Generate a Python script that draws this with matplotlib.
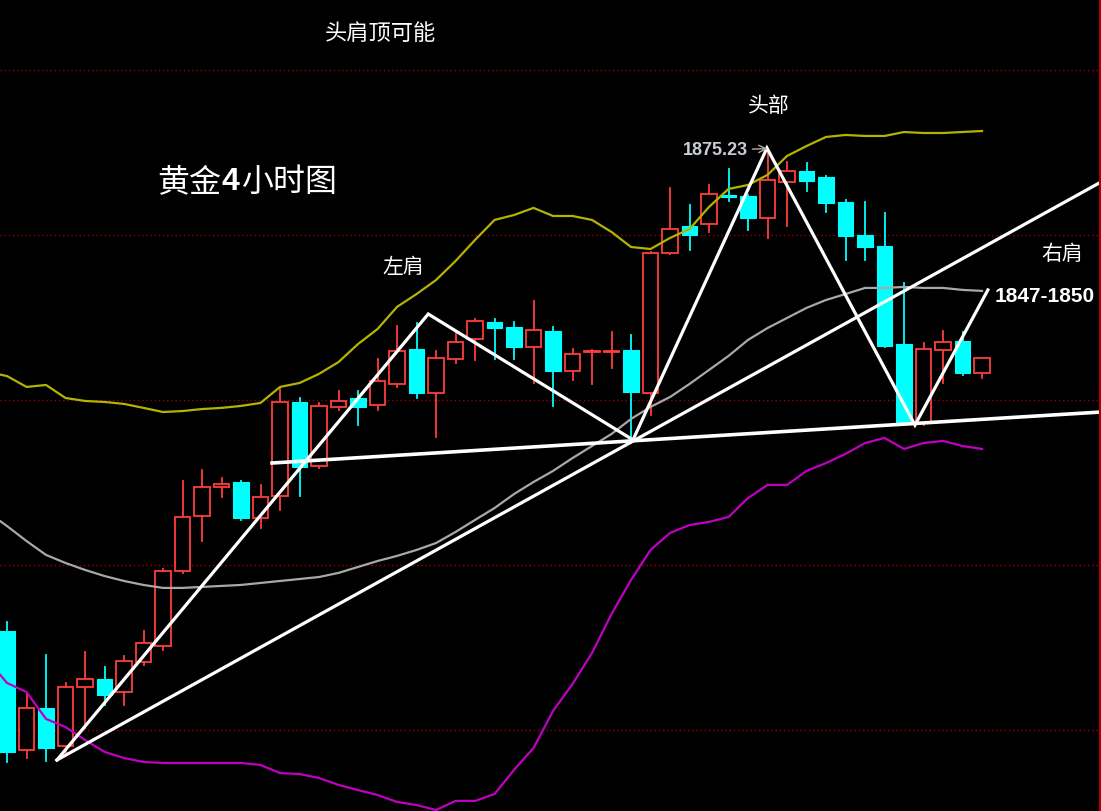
import numpy as np
import matplotlib.pyplot as plt
from matplotlib.patches import Rectangle

plt.rcParams['font.family'] = ['Noto Sans CJK SC', 'DejaVu Sans']

# 4h gold candles (open, high, low, close)
opens = [1846.00, 1838.79, 1841.33, 1839.03, 1842.61, 1843.09, 1842.30, 1844.12, 1845.09, 1849.64,
         1852.97, 1854.73, 1855.03, 1852.85, 1854.18, 1859.88, 1856.00, 1859.58, 1860.12, 1859.70,
         1860.97, 1863.09, 1860.42, 1862.48, 1863.70, 1864.73, 1864.42, 1863.21, 1864.18, 1861.76,
         1862.91, 1862.91, 1863.03, 1860.42, 1868.91, 1870.55, 1870.67, 1872.42, 1872.36, 1871.03,
         1873.21, 1873.88, 1873.52, 1872.00, 1870.00, 1869.33, 1863.39, 1858.61, 1863.03, 1863.58,
         1861.64]
highs = [1846.55, 1842.24, 1844.55, 1842.85, 1844.73, 1843.82, 1844.48, 1846.00, 1849.76, 1855.09,
         1855.76, 1855.27, 1855.09, 1854.85, 1860.73, 1860.12, 1859.82, 1860.55, 1860.55, 1862.48,
         1864.48, 1864.67, 1862.97, 1864.06, 1864.91, 1864.91, 1864.73, 1866.00, 1864.42, 1863.09,
         1863.03, 1864.12, 1863.94, 1868.97, 1872.85, 1871.82, 1873.03, 1874.00, 1872.42, 1875.23,
         1874.42, 1874.36, 1873.58, 1872.12, 1872.00, 1871.33, 1867.09, 1863.45, 1864.18, 1864.12,
         1862.55]
lows = [1838.06, 1838.30, 1838.12, 1838.61, 1840.12, 1841.52, 1841.52, 1843.94, 1844.85, 1849.52,
        1851.45, 1854.12, 1852.73, 1852.24, 1853.33, 1854.18, 1855.88, 1859.39, 1858.48, 1859.39,
        1860.79, 1860.12, 1857.76, 1862.24, 1862.42, 1862.48, 1862.48, 1861.03, 1859.64, 1861.21,
        1860.97, 1861.94, 1857.39, 1859.09, 1868.85, 1869.09, 1870.18, 1872.06, 1870.30, 1869.82,
        1870.55, 1872.67, 1871.39, 1868.48, 1868.48, 1863.21, 1858.48, 1858.50, 1861.03, 1861.52,
        1861.33]
closes = [1838.67, 1841.33, 1838.91, 1842.61, 1843.09, 1842.12, 1844.18, 1845.27, 1849.64, 1852.91,
          1854.73, 1854.91, 1852.85, 1854.12, 1859.88, 1855.94, 1859.64, 1859.94, 1859.58, 1861.15,
          1862.97, 1860.42, 1862.55, 1863.52, 1864.79, 1864.36, 1863.21, 1864.24, 1861.76, 1862.79,
          1862.97, 1862.97, 1860.48, 1868.91, 1870.36, 1870.00, 1872.48, 1872.30, 1871.03, 1873.33,
          1873.88, 1873.27, 1871.94, 1869.94, 1869.27, 1863.27, 1858.61, 1863.09, 1863.52, 1861.64,
          1862.55]

# Bollinger bands, starting one bar before the first visible candle
boll_upper = [1861.70, 1861.45, 1860.79, 1860.91, 1860.12, 1859.94, 1859.88, 1859.76, 1859.52, 1859.27,
              1859.33, 1859.45, 1859.52, 1859.64, 1859.82, 1860.79, 1861.03, 1861.58, 1862.30, 1863.39,
              1864.30, 1865.64, 1866.42, 1867.27, 1868.42, 1869.70, 1870.91, 1871.21, 1871.64, 1871.15,
              1871.15, 1870.91, 1870.18, 1869.27, 1869.15, 1869.82, 1870.36, 1871.70, 1872.79, 1873.03,
              1873.64, 1874.79, 1875.39, 1875.94, 1876.06, 1876.00, 1876.00, 1876.24, 1876.18, 1876.18,
              1876.24, 1876.30]
boll_mid = [1853.21, 1852.36, 1851.45, 1850.61, 1850.12, 1849.70, 1849.33, 1849.03, 1848.79, 1848.61,
            1848.61, 1848.67, 1848.73, 1848.79, 1848.91, 1849.03, 1849.15, 1849.27, 1849.52, 1849.88,
            1850.24, 1850.55, 1850.91, 1851.33, 1852.00, 1852.73, 1853.45, 1854.30, 1855.03, 1855.70,
            1856.48, 1857.21, 1857.94, 1858.85, 1859.58, 1860.18, 1860.97, 1861.82, 1862.67, 1863.64,
            1864.36, 1864.97, 1865.58, 1866.06, 1866.42, 1866.79, 1866.79, 1866.85, 1866.79, 1866.79,
            1866.67, 1866.61]
boll_lower = [1844.24, 1842.85, 1842.30, 1840.67, 1840.18, 1839.39, 1838.67, 1838.30, 1838.06, 1838.00,
              1838.00, 1838.00, 1838.00, 1838.00, 1837.88, 1837.39, 1837.33, 1837.09, 1836.67, 1836.36,
              1836.06, 1835.64, 1835.45, 1835.15, 1835.70, 1835.70, 1836.12, 1837.58, 1838.91, 1841.15,
              1842.79, 1844.67, 1847.03, 1849.09, 1850.91, 1851.94, 1852.42, 1852.61, 1852.91, 1854.06,
              1854.85, 1854.85, 1855.70, 1856.18, 1856.73, 1857.39, 1857.70, 1857.03, 1857.39, 1857.52,
              1857.21, 1857.03]

# hand-drawn head & shoulders lines (bar index, price)
hs_bars = [2.56, 21.6, 32.1, 38.97, 46.56, 50.3]
hs_prices = [1838.18, 1865.21, 1857.58, 1875.27, 1858.48, 1866.67]
neck_bars = [13.59, 56.1]
neck_prices = [1856.18, 1859.27]
trend_bars = [2.56, 56.1]
trend_prices = [1838.18, 1873.21]

grid_levels = [1840, 1850, 1860, 1870, 1880]

UP = '#ff3c3c'
DOWN = '#00ffff'

fig = plt.figure(figsize=(11.01, 8.11), dpi=100, facecolor='black')
ax = fig.add_axes([0, 0, 1, 1])
ax.set_facecolor('black')

for lvl in grid_levels:
    ax.axhline(lvl, color='#9a0000', lw=1.0, ls=(0, (1, 2)), zorder=1)

w = 0.78
for i, (o, h, l, c) in enumerate(zip(opens, highs, lows, closes)):
    top, bot = max(o, c), min(o, c)
    if c >= o:
        ax.plot([i, i], [top, h], color=UP, lw=1.3, zorder=3)
        ax.plot([i, i], [l, bot], color=UP, lw=1.3, zorder=3)
        ax.add_patch(Rectangle((i - w / 2, bot), w, max(top - bot, 0.08),
                               facecolor='black', edgecolor=UP, lw=1.3, zorder=4))
    else:
        ax.plot([i, i], [l, h], color=DOWN, lw=1.3, zorder=3)
        ax.add_patch(Rectangle((i - w / 2, bot), w, max(top - bot, 0.08),
                               facecolor=DOWN, edgecolor=DOWN, lw=0.8, zorder=4))

bx = np.arange(-1, len(boll_upper) - 1)
ax.plot(bx, boll_upper, color='#b4b400', lw=1.6, zorder=5)
ax.plot(bx, boll_mid, color='#a8a8a8', lw=1.6, zorder=5)
ax.plot(bx, boll_lower, color='#c000c0', lw=1.6, zorder=5)

ax.plot(hs_bars, hs_prices, color='white', lw=2.3, zorder=6, solid_joinstyle='miter')
ax.plot(neck_bars, neck_prices, color='white', lw=2.6, zorder=6)
ax.plot(trend_bars, trend_prices, color='white', lw=2.3, zorder=6)

top_i = int(np.argmax(highs))
ax.annotate(f'{highs[top_i]:.2f}', xy=(top_i, highs[top_i]), xytext=(-14, -1),
            textcoords='offset points', ha='right', va='center',
            fontsize=13, fontweight='bold', color='#c8ccd6',
            family=['Liberation Sans', 'DejaVu Sans'],
            arrowprops=dict(arrowstyle='->', color='#b0b0b0', lw=1.0,
                            shrinkA=1, shrinkB=0), zorder=7)

ax.axvline(56.05, color='#b00000', lw=1.5, zorder=7)

ax.set_xlim(-0.36, 56.1)
ax.set_ylim(1835.09, 1884.24)
ax.axis('off')


def px(x, y):
    return x / 1101, 1 - y / 811


fig.text(*px(325, 33), '头肩顶可能', color='white', fontsize=16, va='center', ha='left')
fig.text(*px(157, 182), '黄金', color='white', fontsize=23, va='center', ha='left')
fig.text(*px(221, 182), '4', color='white', fontsize=23, fontweight='bold',
         family=['Liberation Sans', 'DejaVu Sans'], va='center', ha='left')
fig.text(*px(241, 182), '小时图', color='white', fontsize=23, va='center', ha='left')
fig.text(*px(382, 267), '左肩', color='white', fontsize=15, va='center', ha='left')
fig.text(*px(748, 106), '头部', color='white', fontsize=15, va='center', ha='left')
fig.text(*px(1041, 254), '右肩', color='white', fontsize=15, va='center', ha='left')
fig.text(*px(995, 296), '1847-1850', color='white', fontsize=15, fontweight='bold',
         family=['Liberation Sans', 'DejaVu Sans'], va='center', ha='left')

fig.savefig('out.png', dpi=100, facecolor='black')
